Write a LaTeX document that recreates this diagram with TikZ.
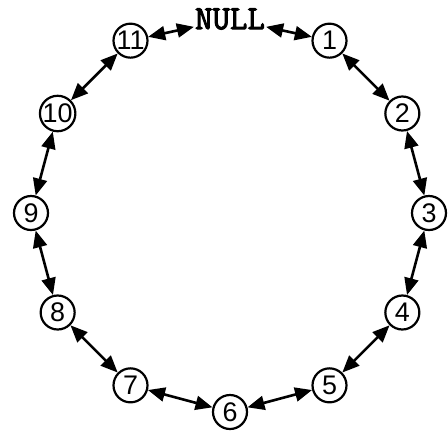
\documentclass[tikz,border=0pt]{standalone}
\usepackage{fontspec}
\setmainfont{Liberation Sans}
\newfontfamily\listNullFont{Latin Modern Mono}[FakeBold=3]
\usetikzlibrary{arrows.meta}
\begin{document}
\begin{tikzpicture}[
    x=1bp, y=1bp,
    listNodeStyle/.style={circle, draw, line width=2.2bp, minimum size=34bp, inner sep=0pt,
        font=\fontsize{27}{27}\selectfont},
    listNullStyle/.style={inner sep=1bp, font=\listNullFont\fontsize{34}{34}\selectfont},
    listTipStyle/.tip={Triangle[length=17bp, width=14bp]},
    listLinkStyle/.style={listTipStyle-listTipStyle, line width=2.6bp}
]
    \useasboundingbox (-230,-219) rectangle (218,213);

    % --- NULL 在顶端 ---
    \node[listNullStyle] (n0) at (90:194) {NULL};

    % --- 链表结点 ---
    \foreach \i in {1,...,11}
        \node[listNodeStyle] (n\i) at ({90-30*\i}:199) {\i};

    % --- 双向指针 ---
    \foreach \i [evaluate=\i as \j using {int(mod(\i+1,12))}] in {0,...,11}
        \draw[listLinkStyle] (n\i) -- (n\j);
\end{tikzpicture}
\end{document}
